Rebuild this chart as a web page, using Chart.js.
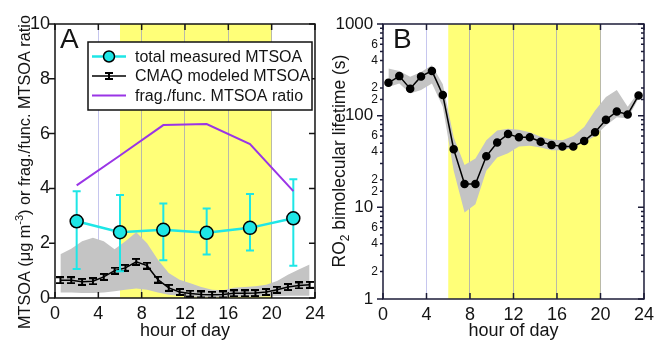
<!DOCTYPE html>
<html>
<head>
<meta charset="utf-8">
<script src="https://cdn.jsdelivr.net/npm/chart.js@4.4.1/dist/chart.umd.min.js"></script>
<style>
  body { margin: 0; background: #fff; }
  #wrap { position: relative; width: 659px; height: 340px; }
  canvas { position: absolute; top: 0; }
  #chartA { left: 0; }
  #chartB { left: 330px; }
</style>
</head>
<body>
<div id="wrap">
  <canvas id="chartA" width="330" height="340"></canvas>
  <canvas id="chartB" width="329" height="340"></canvas>
</div>
<script>
// ---- data ----
const hourTicks = [0, 4, 8, 12, 16, 20, 24];
const dayStart = 6;
const dayEnd = 20;

// panel A: 4-hour measurement bins
const measHours = [2, 6, 10, 14, 18, 22];
const measMTSOA = [2.80, 2.40, 2.49, 2.38, 2.56, 2.91];
const measHigh = [3.90, 3.76, 3.45, 3.27, 3.80, 4.33];
const measLow = [1.06, 0.98, 1.38, 1.59, 1.73, 1.18];
const fragFuncRatio = [4.11, 5.20, 6.31, 6.35, 5.62, 3.90];

// panel A: hourly CMAQ model
const modelHours = [0.5, 1.5, 2.5, 3.5, 4.5, 5.5, 6.5, 7.5, 8.5, 9.5, 10.5, 11.5,
  12.5, 13.5, 14.5, 15.5, 16.5, 17.5, 18.5, 19.5, 20.5, 21.5, 22.5, 23.5];
const modelMTSOA = [0.65, 0.65, 0.59, 0.61, 0.77, 1.00, 1.10, 1.32, 1.18, 0.67, 0.37, 0.22,
  0.16, 0.13, 0.12, 0.13, 0.17, 0.17, 0.18, 0.22, 0.30, 0.40, 0.46, 0.48];
const modelHigh = [1.60, 1.80, 2.07, 2.20, 2.07, 1.78, 2.07, 2.40, 2.00, 1.40, 0.91, 0.67,
  0.54, 0.40, 0.30, 0.28, 0.37, 0.40, 0.43, 0.48, 0.62, 0.85, 1.04, 1.22];
const modelLow = [0.20, 0.20, 0.18, 0.18, 0.20, 0.25, 0.30, 0.35, 0.30, 0.20, 0.12, 0.08,
  0.05, 0.04, 0.04, 0.04, 0.05, 0.05, 0.05, 0.06, 0.07, 0.08, 0.08, 0.08];

// panel B: RO2 bimolecular lifetime (s)
const lifetime = [228, 270, 197, 268, 308, 168, 43, 18, 18, 36, 51, 63,
  58, 58, 52, 48, 46, 46, 53, 66, 90, 111, 103, 166];
const lifetimeHigh = [327, 308, 265, 300, 355, 220, 58, 29, 34, 54, 69, 72,
  70, 66, 59, 55, 54, 60, 75, 114, 160, 190, 125, 181];
const lifetimeLow = [205, 224, 174, 190, 224, 125, 25, 8.8, 10.8, 25, 35, 39,
  46, 47, 45, 42, 42, 45, 51, 60, 78, 96, 93, 154];

const ratioTicks = [0, 2, 4, 6, 8, 10];

// ---- styles ----
const FONT = "'Liberation Sans', Arial, Helvetica, sans-serif";
const yellow = '#ffff78';
const bandGray = '#c4c4c4';
const cyan = '#1ee6e6';
const purple = '#9a35e6';
const textColor = '#141414';

Chart.defaults.font.family = FONT;
Chart.defaults.color = textColor;
Chart.defaults.animation = false;

const pairs = (xs, ys) => xs.map((x, i) => ({ x: x, y: ys[i] }));

// little "I" marker used by the CMAQ series
function makeBarMarker() {
  const c = document.createElement('canvas');
  c.width = 8; c.height = 8;
  const g = c.getContext('2d');
  g.fillStyle = '#000';
  g.fillRect(0, 0, 8, 2);
  g.fillRect(0, 6, 8, 2);
  g.fillRect(3, 0, 2, 8);
  return c;
}
const barMarker = makeBarMarker();

function gridColor(ctx) {
  const v = ctx.tick ? ctx.tick.value : null;
  if (v === 4) return '#c6c6ee';
  if (v === 8 || v === 12 || v === 16 || v === 20) return '#babaa8';
  return 'rgba(0,0,0,0)';
}

function isDecade(v) {
  const e = Math.log10(v);
  return Math.abs(e - Math.round(e)) < 1e-9;
}

// yellow daytime shading, painted under the grid
const dayBand = {
  id: 'dayBand',
  beforeDraw(chart) {
    const { ctx, chartArea: a, scales: { x } } = chart;
    const x0 = x.getPixelForValue(dayStart);
    const x1 = x.getPixelForValue(dayEnd);
    ctx.save();
    ctx.fillStyle = yellow;
    ctx.fillRect(x0, a.top, x1 - x0, a.bottom - a.top);
    ctx.restore();
  }
};

// box around the plot plus tick marks on all four sides
function makeFrame(color) {
  return {
    id: 'frame',
    afterDraw(chart) {
      const { ctx, chartArea: a, scales: { x, y } } = chart;
      ctx.save();
      ctx.strokeStyle = color;
      ctx.lineWidth = 1.5;
      ctx.beginPath();
      x.ticks.forEach(t => {
        const px = x.getPixelForValue(t.value);
        ctx.moveTo(px, a.top); ctx.lineTo(px, a.top + 6);
        ctx.moveTo(px, a.bottom); ctx.lineTo(px, a.bottom - 6);
      });
      y.ticks.forEach(t => {
        const py = y.getPixelForValue(t.value);
        const len = (y.type !== 'logarithmic' || isDecade(t.value)) ? 6 : 3;
        ctx.moveTo(a.left - len, py); ctx.lineTo(a.left, py);
        ctx.moveTo(a.right, py); ctx.lineTo(a.right - len, py);
      });
      ctx.stroke();
      ctx.strokeRect(a.left, a.top, a.right - a.left, a.bottom - a.top);
      ctx.restore();
    }
  };
}

// rotated y title with super/subscripts
function drawVerticalTitle(ctx, parts, x, yc, size) {
  ctx.save();
  ctx.translate(x, yc);
  ctx.rotate(-Math.PI / 2);
  ctx.fillStyle = textColor;
  ctx.textBaseline = 'alphabetic';
  ctx.textAlign = 'left';
  let total = 0;
  parts.forEach(p => {
    ctx.font = (p.size || size) + 'px ' + FONT;
    total += ctx.measureText(p.text).width;
  });
  let u = -total / 2;
  parts.forEach(p => {
    ctx.font = (p.size || size) + 'px ' + FONT;
    ctx.fillText(p.text, u, p.shift || 0);
    u += ctx.measureText(p.text).width;
  });
  ctx.restore();
}

function makeAnnotate(letter, letterDx, titleParts, titleX, titleY, titleSize) {
  return {
    id: 'annotate',
    afterDraw(chart) {
      const { ctx, chartArea: a } = chart;
      ctx.save();
      ctx.fillStyle = textColor;
      ctx.font = '28px ' + FONT;
      ctx.textBaseline = 'alphabetic';
      ctx.textAlign = 'left';
      ctx.fillText(letter, a.left + letterDx, 48);
      ctx.restore();
      drawVerticalTitle(ctx, titleParts, titleX, titleY, titleSize);
    }
  };
}

// error bars for the measured series, drawn just before that dataset
const errorBars = {
  id: 'errorBars',
  beforeDatasetDraw(chart, args) {
    if (chart.data.datasets[args.index].label !== 'total measured MTSOA') return;
    const { ctx, scales: { x, y } } = chart;
    ctx.save();
    ctx.strokeStyle = cyan;
    ctx.lineWidth = 2;
    ctx.beginPath();
    measHours.forEach((h, i) => {
      const px = x.getPixelForValue(h);
      const top = y.getPixelForValue(measHigh[i]);
      const bot = y.getPixelForValue(measLow[i]);
      ctx.moveTo(px, top); ctx.lineTo(px, bot);
      ctx.moveTo(px - 4, top); ctx.lineTo(px + 4, top);
      ctx.moveTo(px - 4, bot); ctx.lineTo(px + 4, bot);
    });
    ctx.stroke();
    ctx.restore();
  }
};

// legend box inside panel A
const boxLegend = {
  id: 'boxLegend',
  afterDraw(chart) {
    const { ctx } = chart;
    const left = 88, top = 42, w = 224, h = 68;
    ctx.save();
    ctx.fillStyle = '#fff';
    ctx.fillRect(left, top, w, h);
    ctx.strokeStyle = '#111';
    ctx.lineWidth = 1.5;
    ctx.strokeRect(left, top, w, h);
    const rows = [
      { label: 'total measured MTSOA', y: 56.5, color: cyan, width: 2.5, mark: 'circle' },
      { label: 'CMAQ modeled MTSOA', y: 76, color: '#000', width: 1.5, mark: 'bar' },
      { label: 'frag./func. MTSOA ratio', y: 95.5, color: purple, width: 2, mark: null }
    ];
    rows.forEach(r => {
      ctx.strokeStyle = r.color;
      ctx.lineWidth = r.width;
      ctx.beginPath();
      ctx.moveTo(92, r.y); ctx.lineTo(126, r.y);
      ctx.stroke();
      if (r.mark === 'circle') {
        ctx.beginPath();
        ctx.arc(109, r.y, 5.5, 0, Math.PI * 2);
        ctx.fillStyle = cyan; ctx.fill();
        ctx.strokeStyle = '#000'; ctx.lineWidth = 1.5; ctx.stroke();
      } else if (r.mark === 'bar') {
        ctx.drawImage(barMarker, 105, r.y - 4);
      }
      ctx.fillStyle = textColor;
      ctx.font = '16px ' + FONT;
      ctx.textBaseline = 'middle';
      ctx.fillText(r.label, 135, r.y + 1);
    });
    ctx.restore();
  }
};

function hourAxis(height) {
  return {
    type: 'linear', min: 0, max: 24,
    afterBuildTicks: s => { s.ticks = hourTicks.map(v => ({ value: v })); },
    afterFit: s => { s.height = height; },
    grid: { color: gridColor, lineWidth: 1, drawTicks: false },
    border: { display: false },
    ticks: { font: { size: 18 }, padding: 5, maxRotation: 0 },
    title: { display: true, text: 'hour of day', font: { size: 18, lineHeight: 1 }, padding: 0 }
  };
}

// ---- panel A ----
new Chart(document.getElementById('chartA'), {
  type: 'line',
  data: {
    datasets: [
      { label: 'frag./func. MTSOA ratio', data: pairs(measHours, fragFuncRatio),
        borderColor: purple, borderWidth: 2, pointRadius: 0, fill: false },
      { label: 'total measured MTSOA', data: pairs(measHours, measMTSOA),
        borderColor: cyan, borderWidth: 2.5, pointRadius: 6.5,
        pointBackgroundColor: cyan, pointBorderColor: '#000', pointBorderWidth: 1.5, fill: false },
      { label: 'CMAQ modeled MTSOA', data: pairs(modelHours, modelMTSOA),
        borderColor: '#000', borderWidth: 1.5, pointStyle: barMarker, pointRadius: 4, fill: false },
      { label: 'model high', data: pairs(modelHours, modelHigh),
        borderWidth: 0, pointRadius: 0, backgroundColor: bandGray, fill: '+1' },
      { label: 'model low', data: pairs(modelHours, modelLow),
        borderWidth: 0, pointRadius: 0, fill: false }
    ]
  },
  options: {
    responsive: false,
    layout: { padding: { top: 24, right: 7, left: 0, bottom: 0 } },
    plugins: { legend: { display: false }, tooltip: { enabled: false } },
    scales: {
      x: hourAxis(42),
      y: {
        type: 'linear', min: 0, max: 10,
        afterBuildTicks: s => { s.ticks = ratioTicks.map(v => ({ value: v })); },
        afterFit: s => { s.width = 55; },
        grid: { display: false, drawTicks: false },
        border: { display: false },
        ticks: { font: { size: 18 }, padding: 5 }
      }
    }
  },
  plugins: [dayBand, errorBars, makeFrame('#151515'), boxLegend,
    makeAnnotate('A', 5, [
      { text: 'MTSOA (\u03bcg m' },
      { text: '-3', size: 11, shift: -7 },
      { text: ') or frag./func. MTSOA ratio' }
    ], 30, 172, 16.3)]
});

// ---- panel B ----
new Chart(document.getElementById('chartB'), {
  type: 'line',
  data: {
    datasets: [
      { label: 'RO2 bimolecular lifetime', data: pairs(modelHours, lifetime),
        borderColor: '#000', borderWidth: 1.5, pointRadius: 3.5,
        pointBackgroundColor: '#000', pointBorderColor: '#000', fill: false },
      { label: 'lifetime high', data: pairs(modelHours, lifetimeHigh),
        borderWidth: 0, pointRadius: 0, backgroundColor: bandGray, fill: '+1' },
      { label: 'lifetime low', data: pairs(modelHours, lifetimeLow),
        borderWidth: 0, pointRadius: 0, fill: false }
    ]
  },
  options: {
    responsive: false,
    layout: { padding: { top: 24, right: 8, left: 0, bottom: 0 } },
    plugins: { legend: { display: false }, tooltip: { enabled: false } },
    scales: {
      x: hourAxis(41),
      y: {
        type: 'logarithmic', min: 1, max: 1000,
        afterFit: s => { s.width = 53; },
        grid: { display: false, drawTicks: false },
        border: { display: false },
        ticks: {
          autoSkip: false,
          padding: 5,
          font: ctx => ({ size: (ctx.tick && isDecade(ctx.tick.value)) ? 17 : 12 }),
          callback: v => {
            if (isDecade(v)) return v + ' ';
            const s = Math.round(v / Math.pow(10, Math.floor(Math.log10(v) + 1e-9)));
            return (s === 2 || s === 4 || s === 6) ? String(s) : '';
          }
        }
      }
    }
  },
  plugins: [dayBand, makeFrame('#1c1c38'),
    makeAnnotate('B', 10, [
      { text: 'RO' },
      { text: '2', size: 12, shift: 4 },
      { text: ' bimolecular lifetime (s)' }
    ], 15, 161, 17.5)]
});
</script>
</body>
</html>
